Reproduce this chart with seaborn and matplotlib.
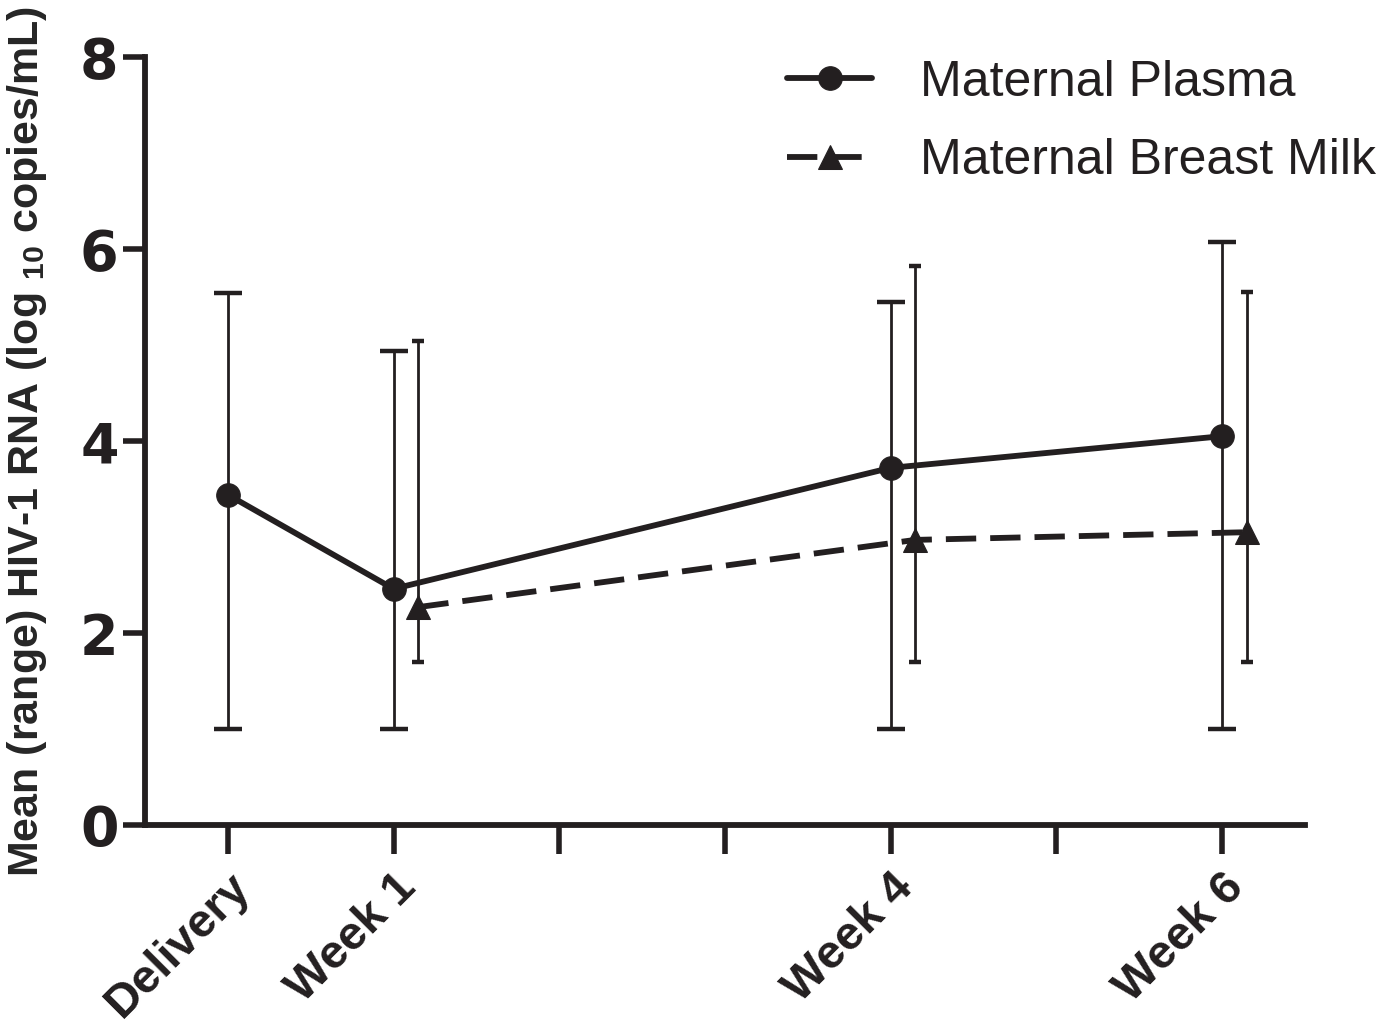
import matplotlib
matplotlib.use("Agg")
import matplotlib.pyplot as plt
import numpy as np
import pandas as pd
import seaborn as sns

# timepoints (x positions in weeks-ish slots, 0..6)
tick_pos = [0, 1, 2, 3, 4, 5, 6]
tick_labels = ["Delivery", "Week 1", "", "", "Week 4", "", "Week 6"]

plasma_x = [0, 1, 4, 6]
plasma_mean = [3.44, 2.46, 3.72, 4.05]
plasma_low = [1.0, 1.0, 1.0, 1.0]
plasma_high = [5.54, 4.94, 5.45, 6.07]

milk_x = [1.15, 4.15, 6.15]
milk_mean = [2.27, 2.97, 3.05]
milk_low = [1.70, 1.70, 1.70]
milk_high = [5.04, 5.82, 5.55]

ink = "#231f20"

sns.set_style("ticks")
plt.rcParams["font.family"] = ["Liberation Sans", "DejaVu Sans"]
plt.rcParams["mathtext.fontset"] = "custom"
plt.rcParams["mathtext.bf"] = "Liberation Sans:bold"
plt.rcParams["mathtext.rm"] = "Liberation Sans:bold"

fig = plt.figure(figsize=(13.88, 10.34), dpi=100)
ax = fig.add_axes([0.1045, 0.2021, 0.8355, 0.7428])

# range bars
p_err = [np.array(plasma_mean) - np.array(plasma_low), np.array(plasma_high) - np.array(plasma_mean)]
m_err = [np.array(milk_mean) - np.array(milk_low), np.array(milk_high) - np.array(milk_mean)]
ax.errorbar(plasma_x, plasma_mean, yerr=p_err, fmt="none", ecolor=ink,
            elinewidth=2.0, capsize=10, capthick=3.2, zorder=2)
ax.errorbar(milk_x, milk_mean, yerr=m_err, fmt="none", ecolor=ink,
            elinewidth=2.0, capsize=4, capthick=3.2, zorder=2)

df_p = pd.DataFrame({"x": plasma_x, "y": plasma_mean})
df_m = pd.DataFrame({"x": milk_x, "y": milk_mean})
sns.lineplot(data=df_p, x="x", y="y", ax=ax, color=ink, linewidth=4.2,
             marker="o", markersize=17, markeredgecolor=ink,
             label="Maternal Plasma", zorder=3)
sns.lineplot(data=df_m, x="x", y="y", ax=ax, color=ink, linewidth=4.2,
             marker="^", markersize=17, markeredgecolor=ink,
             dashes=False, linestyle=(0, (5.2, 2.4)),
             label="Maternal Breast Milk", zorder=3)

ax.set_xlim(-0.5, 6.5)
ax.set_ylim(0, 8)
ax.set_yticks([0, 2, 4, 6, 8])
ax.set_xticks(tick_pos)
ax.set_xticklabels(tick_labels, rotation=45, ha="right", rotation_mode="anchor",
                   fontsize=34, fontweight="bold")
ax.set_yticklabels(["0", "2", "4", "6", "8"], fontsize=40, fontweight="bold",
                   family="DejaVu Sans")
ax.set_xlabel("")
ax.set_ylabel(r"Mean (range) HIV-1 RNA (log $_{\mathbf{10}}$ copies/mL)",
              fontsize=31, fontweight="bold", labelpad=22)

sns.despine(ax=ax)
for s in ["left", "bottom"]:
    ax.spines[s].set_linewidth(4.2)
    ax.spines[s].set_color(ink)
ax.tick_params(axis="both", width=4.0, color=ink, labelcolor=ink)
ax.tick_params(axis="y", length=16, pad=3)
ax.tick_params(axis="x", length=21, pad=8)

leg = ax.legend(loc="upper right", bbox_to_anchor=(1.10, 1.055), frameon=False,
                fontsize=36, handlelength=1.7, handletextpad=0.95, labelspacing=0.65)
for t in leg.get_texts():
    t.set_color(ink)

fig.savefig("out.png", dpi=100)
